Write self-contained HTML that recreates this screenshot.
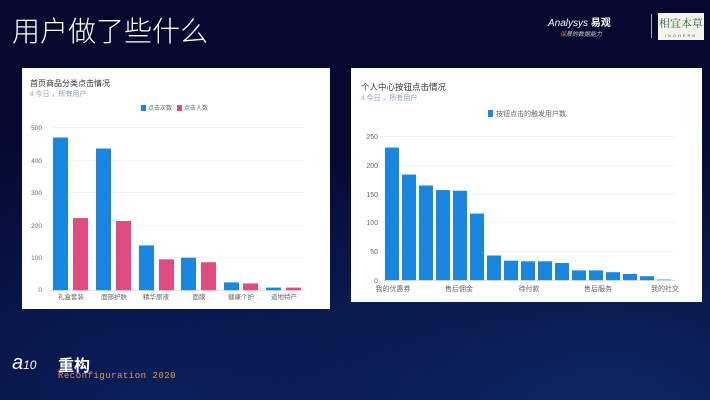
<!DOCTYPE html>
<html><head><meta charset="utf-8"><style>
body{margin:0;width:710px;height:400px;overflow:hidden;background:#050930;font-family:"Liberation Sans","Noto Sans CJK SC",sans-serif;position:relative}
.card{position:absolute;background:#fff}
svg text{font-family:"Liberation Sans","Noto Sans CJK SC",sans-serif}
</style></head><body>
<div style="position:absolute;inset:0;background:radial-gradient(ellipse at 85% 110%,#0e2a6a 0%,rgba(5,9,48,0) 55%),radial-gradient(ellipse at 20% 100%,#0b1f5c 0%,rgba(5,9,48,0) 50%)"></div>
<div style="position:absolute;left:12px;top:10px;color:#fff;font-size:28px;font-family:'Noto Sans CJK SC',sans-serif;font-weight:300">用户做了些什么</div>
<div style="position:absolute;left:548px;top:14px;color:#fff;font-size:10px;font-style:italic;white-space:nowrap">Analysys <b style="font-style:normal">易观</b></div>
<div style="position:absolute;left:560px;top:29px;color:#ccc;font-size:6px;font-style:italic;white-space:nowrap"><span style="color:#e07030">保</span>景的数据能力</div>
<div style="position:absolute;left:651px;top:14px;width:1px;height:24px;background:#aaa"></div>
<div style="position:absolute;left:658px;top:13px;width:46px;height:27px;background:#f4f4ee;color:#2a6a3a;font-size:11px;line-height:20px;text-align:center;white-space:nowrap;font-family:'Noto Serif CJK SC',serif">相宜本草<div style="font-size:4px;line-height:5px;letter-spacing:2px;font-family:'Liberation Sans'">INOHERB</div></div>
<div style="position:absolute;left:12px;top:352px;color:#fff;font-size:20px;font-style:italic">a<span style="font-size:12px">10</span></div>
<div style="position:absolute;left:58px;top:352px;color:#fff;font-size:16px;font-weight:bold">重构</div>
<div style="position:absolute;left:58px;top:371px;color:#e8a030;font-size:9px;font-family:'Liberation Mono',monospace;letter-spacing:.5px">Reconfiguration 2020</div>

<div class="card" style="left:22px;top:68px;width:308px;height:241px"></div>
<div class="card" style="left:351px;top:68px;width:351px;height:234px"></div>
<svg width="710" height="400" style="position:absolute;left:0;top:0">
<g font-size="7" fill="#666">
<text x="30" y="86" font-size="8" fill="#333">首页商品分类点击情况</text>
<text x="30" y="96" fill="#8899bb">ıl 今日 ，所有用户</text>
<rect x="141" y="105" width="5" height="6" fill="#1a86e0"/><text x="148" y="110" font-size="6">点击次数</text>
<rect x="177" y="105" width="5" height="6" fill="#e24b80"/><text x="184" y="110" font-size="6">点击人数</text>
<g stroke="#eee" stroke-width="0.6">
<line x1="50" y1="127.7" x2="305" y2="127.7"/><line x1="50" y1="160.2" x2="305" y2="160.2"/><line x1="50" y1="192.7" x2="305" y2="192.7"/><line x1="50" y1="225.2" x2="305" y2="225.2"/><line x1="50" y1="257.7" x2="305" y2="257.7"/><line x1="50" y1="290.2" x2="305" y2="290.2" stroke="#ccc"/></g>
<g text-anchor="end" font-size="6.5"><text x="42" y="130">500</text><text x="42" y="163">400</text><text x="42" y="195">300</text><text x="42" y="228">200</text><text x="42" y="260">100</text><text x="42" y="292">0</text></g>
<g fill="#1a86e0">
<rect x="53" y="137.5" width="15" height="152.7"/><rect x="96" y="148.5" width="15" height="141.7"/><rect x="139" y="245.4" width="15" height="44.8"/><rect x="181" y="257.7" width="15" height="32.5"/><rect x="224" y="282.4" width="15" height="7.8"/><rect x="266" y="287.6" width="15" height="2.6"/></g>
<g fill="#e24b80">
<rect x="73" y="218.1" width="15" height="72.1"/><rect x="116" y="221" width="15" height="69.2"/><rect x="159" y="259.3" width="15" height="30.9"/><rect x="201" y="262.2" width="15" height="28"/><rect x="243" y="283.4" width="15" height="6.8"/><rect x="286" y="287.6" width="15" height="2.6"/></g>
<g text-anchor="middle" font-size="6.5"><text x="71" y="299">礼盒套装</text><text x="114" y="299">面部护肤</text><text x="156" y="299">精华原液</text><text x="199" y="299">面膜</text><text x="241" y="299">健康个护</text><text x="284" y="299">道地特产</text></g>

<text x="361" y="90" font-size="8.5" fill="#333">个人中心按钮点击情况</text>
<text x="361" y="100" fill="#8899bb">ıl 今日 ，所有用户</text>
<rect x="488" y="110" width="5" height="7" fill="#1a86e0"/><text x="496" y="116">按钮点击的触发用户数</text>
<g stroke="#eee" stroke-width="0.6">
<line x1="383" y1="136.7" x2="675" y2="136.7"/><line x1="383" y1="165.4" x2="675" y2="165.4"/><line x1="383" y1="194.1" x2="675" y2="194.1"/><line x1="383" y1="222.8" x2="675" y2="222.8"/><line x1="383" y1="251.5" x2="675" y2="251.5"/><line x1="383" y1="280.2" x2="675" y2="280.2" stroke="#ccc"/></g>
<g text-anchor="end" font-size="7"><text x="378" y="139">250</text><text x="378" y="168">200</text><text x="378" y="197">150</text><text x="378" y="225">100</text><text x="378" y="254">50</text><text x="378" y="283">0</text></g>
<g fill="#1a86e0">
<rect x="385" y="147.6" width="14" height="132.6"/><rect x="402" y="174.6" width="14" height="105.6"/><rect x="419" y="185.5" width="14" height="94.7"/><rect x="436" y="190.1" width="14" height="90.1"/><rect x="453" y="190.7" width="14" height="89.5"/><rect x="470" y="213.6" width="14" height="66.6"/><rect x="487" y="255.5" width="14" height="24.7"/><rect x="504" y="260.7" width="14" height="19.5"/><rect x="521" y="261.3" width="14" height="18.9"/><rect x="538" y="261.3" width="14" height="18.9"/><rect x="555" y="263" width="14" height="17.2"/><rect x="572" y="270.4" width="14" height="9.8"/><rect x="589" y="270.4" width="14" height="9.8"/><rect x="606" y="272.2" width="14" height="8"/><rect x="623" y="273.9" width="14" height="6.3"/><rect x="640" y="276.2" width="14" height="4"/><rect x="657" y="279.6" width="14" height="0.6"/></g>
<g text-anchor="middle" font-size="7"><text x="393" y="291">我的优惠券</text><text x="459" y="291">售后佣金</text><text x="529" y="291">待付款</text><text x="598" y="291">售后服务</text><text x="665" y="291">我的社交</text></g>
</g>
</svg>
</body></html>
